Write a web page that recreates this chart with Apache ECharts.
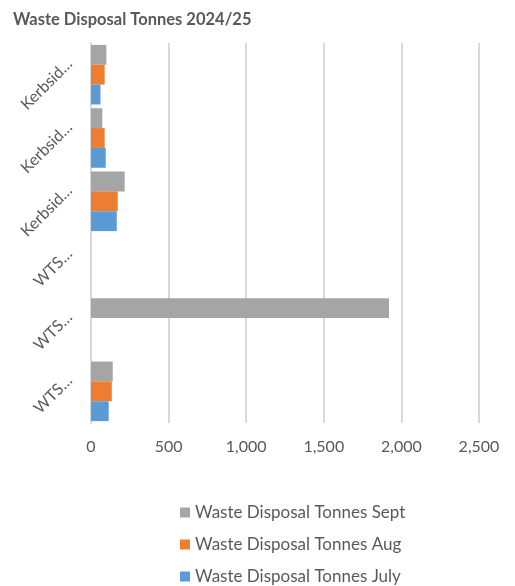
<!DOCTYPE html>
<html>

<head>
    <meta charset="utf-8">
    <title>Waste Disposal Tonnes</title>
    <script src="https://cdn.jsdelivr.net/npm/echarts@6/dist/echarts.min.js"></script>
    <style>
        body { margin: 0; background: #fff; }
    </style>
</head>

<body>
    <div id="chart" style="width: 515px; height: 586px;"></div>

    <script type="text/javascript">
        // categories listed bottom to top, as drawn
        var categories = ['WTS…', 'WTS…', 'WTS…', 'Kerbsid…', 'Kerbsid…', 'Kerbsid…'];
        var tonnesJuly = [114, 0, 0, 166, 95, 61];
        var tonnesAug = [134, 0, 0, 172, 88, 88];
        var tonnesSept = [140, 1920, 0, 217, 73, 99];
        var xTicks = [0, 500, 1000, 1500, 2000, 2500];

        var textColor = '#595959';
        var fontName = 'Lato, "Open Sans", sans-serif';

        function bar(name, data, color) {
            return {
                name: name,
                type: 'bar',
                data: data,
                barGap: '0%',
                barCategoryGap: '6%',
                itemStyle: { color: color },
                emphasis: { disabled: true }
            };
        }

        var myChart = echarts.init(document.getElementById('chart'), null, { renderer: 'canvas' });
        myChart.setOption({
            animation: false,
            title: {
                text: 'Waste Disposal Tonnes 2024/25',
                left: 8,
                top: 6,
                textStyle: { color: textColor, fontSize: 16.5, fontWeight: 'bold', fontFamily: fontName }
            },
            grid: { left: 91, right: 36, top: 43, bottom: 163 },
            xAxis: {
                type: 'value',
                min: xTicks[0],
                max: xTicks[xTicks.length - 1],
                interval: 500,
                axisLine: { show: false },
                axisTick: { show: false },
                splitLine: { lineStyle: { color: '#d9d9d9', width: 2 } },
                axisLabel: {
                    color: textColor,
                    fontSize: 16,
                    fontFamily: fontName,
                    margin: 16,
                    formatter: function (v) { return v.toLocaleString('en-US'); }
                }
            },
            yAxis: {
                type: 'category',
                data: categories,
                axisLine: { lineStyle: { color: '#d9d9d9', width: 2 } },
                axisTick: { show: false },
                axisLabel: {
                    color: textColor,
                    fontSize: 16,
                    fontFamily: fontName,
                    rotate: 45,
                    margin: 8,
                    verticalAlign: 'bottom',
                    padding: [0, 0, 11, 0]
                }
            },
            legend: {
                orient: 'vertical',
                left: 175,
                top: 499,
                height: 120,
                itemWidth: 10,
                itemHeight: 10,
                itemGap: 15,
                icon: 'rect',
                data: ['Waste Disposal Tonnes Sept', 'Waste Disposal Tonnes Aug', 'Waste Disposal Tonnes July'],
                textStyle: { color: textColor, fontSize: 17, fontFamily: fontName }
            },
            // first series sits on top of each group
            series: [
                bar('Waste Disposal Tonnes Sept', tonnesSept, '#a5a5a5'),
                bar('Waste Disposal Tonnes Aug', tonnesAug, '#ed7d31'),
                bar('Waste Disposal Tonnes July', tonnesJuly, '#5b9bd5')
            ]
        });
    </script>
</body>

</html>
